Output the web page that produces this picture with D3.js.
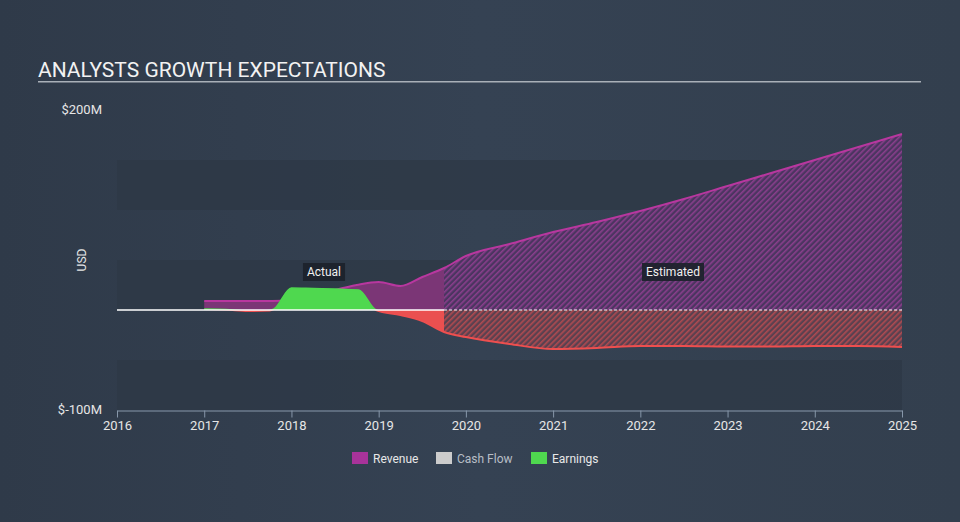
<!DOCTYPE html>
<html><head><meta charset="utf-8">
<script src="https://cdn.jsdelivr.net/npm/d3@7"></script>
<style>
body{margin:0;background:#333f4f;}
svg{display:block;font-family:Roboto, "Open Sans", sans-serif;}
</style></head>
<body><svg id="c" width="960" height="522"></svg>
<script>
// ---- data ----
const revenueYears  = [2017.0, 2017.25, 2017.5, 2017.78, 2018.0, 2018.25, 2018.5, 2018.75, 2019.0, 2019.25, 2019.5, 2019.75, 2020.0, 2020.5, 2021.0, 2021.5, 2022.0, 2022.5, 2023.0, 2023.5, 2024.0, 2024.5, 2025.0];
const revenueValues = [9, 9, 9, 9, 10, 14, 20, 25, 28, 24, 33, 42, 54, 66, 78, 88, 99, 111, 124, 137, 150, 163, 176];
const earningsYears  = [2017.0, 2017.25, 2017.5, 2017.75, 2017.8, 2018.0, 2018.25, 2018.5, 2018.77, 2018.97, 2019.25, 2019.5, 2019.75, 2020.0, 2020.5, 2021.0, 2021.5, 2022.0, 2022.5, 2023.0, 2023.5, 2024.0, 2024.5, 2025.0];
const earningsValues = [1, 0.5, -1, -0.5, 1, 22, 21.5, 21, 20, 0, -5, -11, -22, -27, -34, -39, -38, -36, -36, -36.5, -36.5, -36, -36, -37];
const forecastStart = 2019.75;
const xTickYears = [2016, 2017, 2018, 2019, 2020, 2021, 2022, 2023, 2024, 2025];
const yLabelValues = [200, -100];
const yLabelTexts  = ["$200M", "$-100M"];
const bandStarts = [100, 0, -100];
const legendLabels = ["Revenue", "Cash Flow", "Earnings"];
const legendColors = ["#a8339a", "#cccccc", "#4fd84f"];
const titleText = "ANALYSTS GROWTH EXPECTATIONS";

const svg = d3.select("#c");
const W = 960, H = 522;

const x = d3.scaleLinear().domain([2016, 2025]).range([117, 902]);
const y = d3.scaleLinear().domain([-100, 200]).range([410, 110]);

// background
const defs = svg.append("defs");
const bg = defs.append("linearGradient").attr("id","bg").attr("x1","0").attr("x2","1").attr("y1","0").attr("y2","0");
bg.append("stop").attr("offset","0").attr("stop-color","#2f3a49");
bg.append("stop").attr("offset","0.5").attr("stop-color","#354253");
bg.append("stop").attr("offset","1").attr("stop-color","#333f4e");
svg.append("rect").attr("width",W).attr("height",H).attr("fill","url(#bg)");

// patterns
function hatch(id, base, stroke){
  const p = defs.append("pattern").attr("id",id).attr("patternUnits","userSpaceOnUse")
    .attr("width",4).attr("height",4).attr("patternTransform","rotate(45)");
  p.append("rect").attr("width",4).attr("height",4).attr("fill",base);
  p.append("rect").attr("width",1.6).attr("height",4).attr("fill",stroke);
}
hatch("hRev", "#4b3560", "#8a3f8c");
hatch("hEarn", "#5a4150", "#b04a50");

// clip paths
defs.append("clipPath").attr("id","cAct").append("rect")
  .attr("x",0).attr("y",0).attr("width",x(forecastStart)).attr("height",H);
defs.append("clipPath").attr("id","cFc").append("rect")
  .attr("x",x(forecastStart)).attr("y",0).attr("width",W).attr("height",H);
defs.append("clipPath").attr("id","cPos").append("rect")
  .attr("x",0).attr("y",0).attr("width",W).attr("height",y(0));
defs.append("clipPath").attr("id","cNeg").append("rect")
  .attr("x",0).attr("y",y(0)).attr("width",W).attr("height",H);

// bands
svg.append("g").selectAll("rect").data(bandStarts).join("rect")
  .attr("x", x(2016)).attr("width", x(2025) - x(2016))
  .attr("y", d => y(d + 50)).attr("height", d => y(d) - y(d + 50))
  .attr("fill", "#2d3846").attr("opacity", 0.75);

// title
svg.append("text").attr("x",38).attr("y",77).attr("fill","#f2f2f2")
  .attr("font-size",21).text(titleText);
svg.append("rect").attr("x",38).attr("y",81).attr("width",883).attr("height",1.5).attr("fill","#a9b0b8");

// y labels
svg.append("g").selectAll("text").data(yLabelValues).join("text")
  .attr("x", 102).attr("y", d => y(d) + 4).attr("text-anchor","end")
  .attr("fill","#e6e6e6").attr("font-size",13)
  .text((d,i) => yLabelTexts[i]);
svg.append("text").attr("transform","translate(86,260) rotate(-90)")
  .attr("text-anchor","middle").attr("fill","#e6e6e6").attr("font-size",12).text("USD");

const rev = revenueYears.map((t,i)=>({t, v: revenueValues[i]}));
const earn = earningsYears.map((t,i)=>({t, v: earningsValues[i]}));
const curve = d3.curveMonotoneX;
const area = d3.area().curve(curve).x(d=>x(d.t)).y0(y(0)).y1(d=>y(d.v));
const line = d3.line().curve(curve).x(d=>x(d.t)).y(d=>y(d.v));

// revenue
const gA = svg.append("g").attr("clip-path","url(#cAct)");
const gF = svg.append("g").attr("clip-path","url(#cFc)");
gA.append("path").datum(rev).attr("d",area).attr("fill","#7b3676");
gF.append("path").datum(rev).attr("d",area).attr("fill","url(#hRev)");
svg.append("path").datum(rev).attr("d",line).attr("fill","none").attr("stroke","#b8379f").attr("stroke-width",2);

// earnings (drawn over revenue)
const gA2 = svg.append("g").attr("clip-path","url(#cAct)");
const gF2 = svg.append("g").attr("clip-path","url(#cFc)");
const gAP = gA2.append("g").attr("clip-path","url(#cPos)");
const gAN = gA2.append("g").attr("clip-path","url(#cNeg)");
gAP.append("path").datum(earn).attr("d",area).attr("fill","#4fd84f");
gAN.append("path").datum(earn).attr("d",area).attr("fill","#ea5050");
const gFN = gF2.append("g").attr("clip-path","url(#cNeg)");
gFN.append("path").datum(earn).attr("d",area).attr("fill","url(#hEarn)");
svg.append("g").attr("clip-path","url(#cNeg)").append("path").datum(earn).attr("d",line)
  .attr("fill","none").attr("stroke","#ee4f4f").attr("stroke-width",2);
svg.append("g").attr("clip-path","url(#cPos)").append("path").datum(earn).attr("d",line)
  .attr("fill","none").attr("stroke","#4fd84f").attr("stroke-width",1.5);

// zero line
svg.append("line").attr("x1",x(2016)).attr("x2",x(forecastStart)).attr("y1",y(0)).attr("y2",y(0))
  .attr("stroke","#ffffff").attr("stroke-width",1.5);
svg.append("line").attr("x1",x(forecastStart)).attr("x2",x(2025)).attr("y1",y(0)).attr("y2",y(0))
  .attr("stroke","#ffffff").attr("stroke-width",1.2).attr("stroke-dasharray","3,2");

// x axis
const ax = svg.append("g").attr("transform",`translate(0,${y(-100)+0.5})`)
  .call(d3.axisBottom(x).tickValues(xTickYears).tickFormat(d3.format("d")).tickSize(7).tickSizeOuter(0));
ax.select(".domain").attr("stroke","#8797aa");
ax.selectAll(".tick line").attr("stroke","#8797aa");
ax.selectAll(".tick text").attr("fill","#e6e6e6").attr("font-size",13).attr("dy","0.7em").attr("font-family","Roboto, sans-serif");

// annotation labels
function tag(t, cx){
  const g = svg.append("g");
  const txt = g.append("text").attr("x",cx).attr("y",276).attr("text-anchor","middle")
    .attr("fill","#f0f0f0").attr("font-size",12).text(t);
  const bb = txt.node().getBBox();
  g.insert("rect","text").attr("x",bb.x-4).attr("y",263).attr("width",bb.width+8).attr("height",18)
    .attr("fill","#1c222b").attr("opacity",0.92);
}
tag("Actual", 324);
tag("Estimated", 673);

// legend
const lx = [352, 436, 531];
const lg = svg.append("g").selectAll("g").data(legendLabels).join("g")
  .attr("transform",(d,i)=>`translate(${lx[i]},452)`);
lg.append("rect").attr("width",16).attr("height",12).attr("fill",(d,i)=>legendColors[i]);
lg.append("text").attr("x",21).attr("y",10.5).attr("font-size",12)
  .attr("fill",(d,i)=> i===1 ? "#b8bec6" : "#e8e8e8").text(d=>d);
</script>
</body></html>
